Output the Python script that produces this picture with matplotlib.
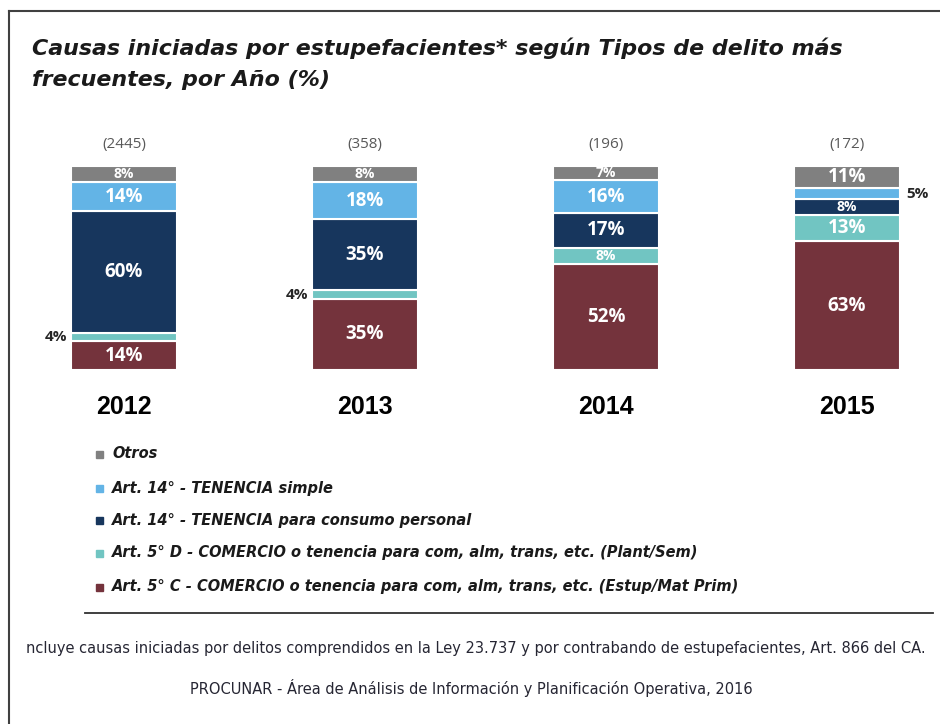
import numpy as np
import matplotlib
matplotlib.use("Agg")
import matplotlib.pyplot as plt
from matplotlib.lines import Line2D
from matplotlib.patches import Rectangle

# data (percent per year, bottom to top)
years = ['2012', '2013', '2014', '2015']
counts = ['(2445)', '(358)', '(196)', '(172)']
comercio_c = [14, 35, 52, 63]
comercio_d = [4, 4, 8, 13]
consumo = [60, 35, 17, 8]
simple = [14, 18, 16, 5]
otros = [8, 8, 7, 11]

series = [comercio_c, comercio_d, consumo, simple, otros]
colors = ['#74333c', '#71c5c2', '#17365d', '#63b4e6', '#808080']
names = ['Art. 5° C - COMERCIO o tenencia para com, alm, trans, etc. (Estup/Mat Prim)',
         'Art. 5° D - COMERCIO o tenencia para com, alm, trans, etc. (Plant/Sem)',
         'Art. 14° - TENENCIA para consumo personal',
         'Art. 14° - TENENCIA simple',
         'Otros']

W, H = 940, 724
fig = plt.figure(figsize=(W / 100, H / 100), dpi=100)

# bar area: centers at 124 + 241*i px, top 166 px, bottom 370 px
ax = fig.add_axes([0, (H - 370) / H, 1, 204 / H])
x0 = -124 / 241
ax.set_xlim(x0, x0 + W / 241)
ax.set_ylim(0, 100)
ax.axis('off')

x = np.arange(len(years))
bottom = np.zeros(len(years))
for s, vals in enumerate(series):
    vals = np.array(vals, dtype=float)
    ax.bar(x, vals, 0.44, bottom=bottom, color=colors[s], edgecolor='white',
           linewidth=1.5, zorder=2)
    for i, v in enumerate(vals):
        yc = bottom[i] + v / 2
        lbl = f'{int(v)}%'
        if v <= 5:
            # small segments labelled outside the bar
            if s == 3:
                ax.text(x[i] + 0.245, yc, lbl, ha='left', va='center',
                        fontsize=11, fontweight='bold', color='#262626',
                        family='Open Sans')
            else:
                ax.text(x[i] - 0.235, yc, lbl, ha='right', va='center',
                        fontsize=11, fontweight='bold', color='#262626',
                        family='Open Sans')
        else:
            fs = 10 if v <= 8 else 13.5
            ax.text(x[i], yc, lbl, ha='center', va='center', fontsize=fs,
                    fontweight='bold', color='white', family='Open Sans')
    bottom += vals

for i in range(len(years)):
    ax.text(x[i], 110.3, counts[i], ha='center', va='center', fontsize=11,
            color='#595959', family='Open Sans')
    ax.text(x[i], -18.1, years[i], ha='center', va='center', fontsize=18,
            fontweight='bold', color='black', family='Liberation Sans')

# title
title_kw = dict(ha='left', va='center', fontsize=15.9, fontweight='bold',
                style='italic', family='DejaVu Sans', color='#1a1a1a')
fig.text(32 / W, 1 - 48 / H, 'Causas iniciadas por estupefacientes* según Tipos de delito más', **title_kw)
fig.text(32 / W, 1 - 80 / H, 'frecuentes, por Año (%)', **title_kw)

# legend (top to bottom: Otros ... Comercio C)
leg_y = [454, 488, 520, 553, 587]
for k, s in enumerate(range(len(series) - 1, -1, -1)):
    yy = 1 - leg_y[k] / H
    fig.patches.append(Rectangle((96 / W, yy - 3.5 / H), 7 / W, 7 / H,
                                 transform=fig.transFigure, color=colors[s]))
    fig.text(112 / W, yy, names[s], ha='left', va='center', fontsize=10.5,
             fontweight='bold', style='italic', family='DejaVu Sans', color='#1a1a1a')

# frame and separator
fig.add_artist(Line2D([9 / W, 1], [1 - 10.5 / H, 1 - 10.5 / H], color='#404040', lw=1.5))
fig.add_artist(Line2D([9 / W, 9 / W], [0, 1 - 10.5 / H], color='#404040', lw=1.5))
fig.add_artist(Line2D([85 / W, 933 / W], [1 - 613 / H, 1 - 613 / H], color='#303030', lw=1.3))

# footer
fig.text(476 / W, 1 - 648 / H,
         'ncluye causas iniciadas por delitos comprendidos en la Ley 23.737 y por contrabando de estupefacientes, Art. 866 del CA.',
         ha='center', va='center', fontsize=10.5, family='DejaVu Sans', color='#262633')
fig.text(471 / W, 1 - 688 / H,
         'PROCUNAR - Área de Análisis de Información y Planificación Operativa, 2016',
         ha='center', va='center', fontsize=10.5, family='DejaVu Sans', color='#262633')

fig.savefig('out.png', dpi=100)
